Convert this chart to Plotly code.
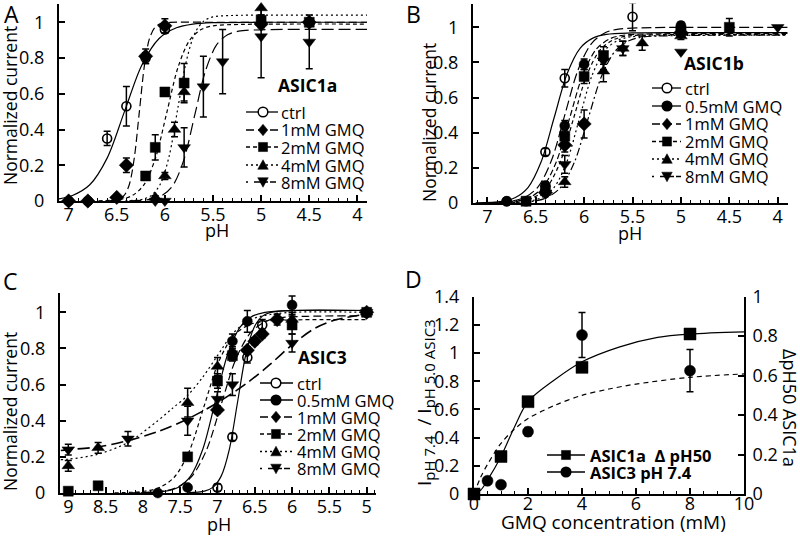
import plotly.graph_objects as go

W, H = 800, 537

# ---------------- panel A : ASIC1a ----------------
a_ctrl_ph = [7.0, 6.8, 6.6, 6.4, 6.2, 6.0]
a_ctrl_i = [0.0, 0.0, 0.35, 0.53, 0.80, 0.96]
a_ctrl_err = [0.01, 0.01, 0.04, 0.11, 0.03, 0.02]
a_1mm_ph = [7.0, 6.8, 6.5, 6.4, 6.2, 6.0, 5.0, 4.5]
a_1mm_i = [0.0, 0.0, 0.02, 0.20, 0.81, 0.98, 0.99, 1.0]
a_1mm_err = [0.0, 0.0, 0.01, 0.04, 0.04, 0.04, 0.02, 0.02]
a_2mm_ph = [6.2, 6.1, 6.0, 5.8, 5.0, 4.5]
a_2mm_i = [0.14, 0.30, 0.61, 0.66, 1.01, 1.0]
a_2mm_err = [0.01, 0.07, 0.02, 0.11, 0.03, 0.02]
a_4mm_ph = [6.1, 6.0, 5.9, 5.8, 5.0]
a_4mm_i = [0.02, 0.14, 0.40, 0.61, 1.08]
a_4mm_err = [0.01, 0.02, 0.04, 0.05, 0.04]
a_8mm_ph = [6.1, 6.0, 5.8, 5.6, 5.4, 5.0, 4.5]
a_8mm_i = [0.0, 0.0, 0.30, 0.64, 0.78, 0.92, 0.89]
a_8mm_err = [0.0, 0.0, 0.11, 0.17, 0.18, 0.23, 0.15]

# fitted curves
a_fit_ctrl_ph = [7.1, 6.96, 6.78, 6.60, 6.42, 6.24, 6.06, 5.88, 5.71, 5.5, 5.0, 3.9]
a_fit_ctrl_i = [0.012, 0.031, 0.091, 0.24, 0.5, 0.76, 0.909, 0.969, 0.99, 0.998, 1.0, 1.0]
a_fit_1mm_ph = [6.58, 6.475, 6.423, 6.37, 6.318, 6.265, 6.212, 6.16, 6.107, 6.055, 5.95, 5.5, 3.9]
a_fit_1mm_i = [0.001, 0.0099, 0.031, 0.091, 0.24, 0.5, 0.76, 0.909, 0.969, 0.99, 0.999, 1.0, 1.0]
a_fit_2mm_ph = [6.69, 6.456, 6.337, 6.218, 6.099, 5.98, 5.861, 5.742, 5.623, 5.504, 5.2, 4.8, 3.9]
a_fit_2mm_i = [0.001, 0.0098, 0.031, 0.09, 0.238, 0.495, 0.752, 0.90, 0.959, 0.98, 0.988, 0.99, 0.99]
a_fit_4mm_ph = [6.41, 6.229, 6.138, 6.047, 5.956, 5.865, 5.774, 5.683, 5.592, 5.501, 5.3, 4.9, 3.9]
a_fit_4mm_i = [0.001, 0.0103, 0.032, 0.095, 0.25, 0.52, 0.79, 0.945, 1.008, 1.03, 1.038, 1.04, 1.04]
a_fit_8mm_ph = [6.37, 6.145, 6.031, 5.917, 5.803, 5.69, 5.577, 5.463, 5.349, 5.235, 5.0, 4.6, 3.9]
a_fit_8mm_i = [0.001, 0.0095, 0.03, 0.087, 0.23, 0.48, 0.73, 0.873, 0.93, 0.95, 0.958, 0.96, 0.96]

# ---------------- panel B : ASIC1b ----------------
b_ctrl_ph = [6.8, 6.4, 6.2, 5.5, 5.0]
b_ctrl_i = [0.01, 0.29, 0.71, 1.06, 0.99]
b_ctrl_err = [0.01, 0.02, 0.05, 0.08, 0.02]
b_05mm_ph = [6.8, 6.6, 6.4, 6.2, 6.0, 5.0]
b_05mm_i = [0.01, 0.01, 0.10, 0.44, 0.79, 1.01]
b_05mm_err = [0.01, 0.01, 0.02, 0.03, 0.03, 0.02]
b_1mm_ph = [6.4, 6.2, 6.0, 5.0]
b_1mm_i = [0.06, 0.33, 0.45, 0.97]
b_1mm_err = [0.01, 0.04, 0.08, 0.02]
b_2mm_ph = [6.6, 6.4, 6.2, 6.0, 5.8, 5.0, 4.5]
b_2mm_i = [0.01, 0.07, 0.38, 0.72, 0.84, 0.98, 1.0]
b_2mm_err = [0.01, 0.02, 0.05, 0.04, 0.05, 0.02, 0.05]
b_4mm_ph = [6.2, 5.8, 5.6, 5.4, 5.0]
b_4mm_i = [0.12, 0.75, 0.88, 0.91, 0.95]
b_4mm_err = [0.03, 0.06, 0.04, 0.04, 0.02]
b_8mm_ph = [6.2, 5.8, 5.6, 5.0, 4.0]
b_8mm_i = [0.22, 0.81, 0.88, 0.86, 1.0]
b_8mm_err = [0.05, 0.05, 0.04, 0.0, 0.0]

b_fit_ctrl_ph = [7.12, 6.85, 6.715, 6.58, 6.445, 6.31, 6.175, 6.04, 5.905, 5.77, 5.5, 5.0, 3.9]
b_fit_ctrl_i = [0.001, 0.0096, 0.03, 0.088, 0.233, 0.485, 0.737, 0.882, 0.94, 0.96, 0.968, 0.97, 0.97]
b_fit_05mm_ph = [7.03, 6.756, 6.617, 6.478, 6.339, 6.2, 6.061, 5.922, 5.783, 5.644, 5.3, 4.8, 3.9]
b_fit_05mm_i = [0.001, 0.0099, 0.031, 0.091, 0.24, 0.5, 0.76, 0.909, 0.969, 0.99, 0.998, 1.0, 1.0]
b_fit_1mm_ph = [6.82, 6.531, 6.389, 6.246, 6.103, 5.96, 5.817, 5.674, 5.531, 5.389, 5.0, 4.6, 3.9]
b_fit_1mm_i = [0.001, 0.0095, 0.03, 0.087, 0.229, 0.478, 0.726, 0.868, 0.925, 0.945, 0.953, 0.955, 0.955]
b_fit_2mm_ph = [6.94, 6.666, 6.527, 6.388, 6.249, 6.11, 5.971, 5.832, 5.693, 5.554, 5.2, 4.7, 3.9]
b_fit_2mm_i = [0.001, 0.0095, 0.03, 0.087, 0.23, 0.48, 0.73, 0.873, 0.93, 0.95, 0.958, 0.96, 0.96]
b_fit_4mm_ph = [6.84, 6.576, 6.445, 6.313, 6.182, 6.05, 5.918, 5.787, 5.655, 5.524, 5.2, 4.7, 3.9]
b_fit_4mm_i = [0.001, 0.0095, 0.03, 0.087, 0.229, 0.478, 0.726, 0.868, 0.925, 0.945, 0.953, 0.955, 0.955]
b_fit_8mm_ph = [6.98, 6.706, 6.567, 6.428, 6.289, 6.15, 6.011, 5.872, 5.733, 5.594, 5.2, 4.7, 3.9]
b_fit_8mm_i = [0.001, 0.0096, 0.03, 0.088, 0.232, 0.483, 0.733, 0.877, 0.935, 0.955, 0.963, 0.965, 0.965]

# ---------------- panel C : ASIC3 ----------------
c_ctrl_ph = [7.0, 6.8, 6.6, 6.4, 5.0]
c_ctrl_i = [0.03, 0.31, 0.75, 0.93, 1.0]
c_ctrl_err = [0.02, 0.02, 0.03, 0.03, 0.01]
c_05mm_ph = [7.8, 7.4, 6.8, 6.6, 6.0, 5.0]
c_05mm_i = [0.0, 0.03, 0.84, 0.95, 1.04, 1.0]
c_05mm_err = [0.0, 0.0, 0.04, 0.06, 0.05, 0.0]
c_1mm_ph = [7.0, 6.6, 6.5, 6.4, 6.2, 5.0]
c_1mm_i = [0.46, 0.79, 0.84, 0.88, 0.96, 1.0]
c_1mm_err = [0.02, 0.02, 0.02, 0.02, 0.03, 0.0]
c_2mm_ph = [9.0, 8.6, 7.4, 7.0, 6.8, 6.0, 5.0]
c_2mm_i = [0.01, 0.04, 0.20, 0.62, 0.76, 0.93, 1.0]
c_2mm_err = [0.0, 0.01, 0.01, 0.04, 0.03, 0.05, 0.0]
c_4mm_ph = [9.0, 8.6, 7.4, 7.0, 6.8, 6.0, 5.0]
c_4mm_i = [0.15, 0.25, 0.50, 0.70, 0.78, 0.96, 1.0]
c_4mm_err = [0.03, 0.03, 0.08, 0.05, 0.03, 0.04, 0.0]
c_8mm_ph = [9.0, 8.2, 7.4, 7.0, 6.8, 6.0, 5.0]
c_8mm_i = [0.24, 0.30, 0.40, 0.52, 0.60, 0.83, 1.0]
c_8mm_err = [0.03, 0.04, 0.08, 0.04, 0.06, 0.05, 0.0]

c_fit_ctrl_ph = [7.4, 7.174, 7.063, 6.952, 6.841, 6.73, 6.619, 6.508, 6.397, 6.286, 6.0, 5.0]
c_fit_ctrl_i = [0.001, 0.01, 0.031, 0.092, 0.242, 0.505, 0.768, 0.918, 0.979, 1.0, 1.01, 1.01]
c_fit_05mm_ph = [8.03, 7.697, 7.53, 7.363, 7.197, 7.03, 6.863, 6.697, 6.53, 6.363, 6.0, 5.0]
c_fit_05mm_i = [0.001, 0.01, 0.031, 0.092, 0.242, 0.505, 0.768, 0.918, 0.979, 1.0, 1.01, 1.01]
c_fit_1mm_ph = [8.15, 7.75, 7.55, 7.35, 7.15, 6.95, 6.75, 6.55, 6.35, 6.15, 5.8, 5.0]
c_fit_1mm_i = [0.001, 0.0097, 0.03, 0.089, 0.235, 0.49, 0.745, 0.89, 0.95, 0.97, 0.978, 0.98]
c_fit_2mm_ph = [8.38, 7.98, 7.78, 7.58, 7.38, 7.18, 6.98, 6.78, 6.58, 6.38, 6.0, 5.0]
c_fit_2mm_i = [0.001, 0.0095, 0.03, 0.087, 0.23, 0.48, 0.73, 0.873, 0.93, 0.95, 0.958, 0.96]
c_fit_4mm_ph = [9.1, 9.0, 8.6, 8.2, 7.8, 7.6, 7.4, 7.2, 7.0, 6.8, 6.6, 6.4, 6.0, 5.0]
c_fit_4mm_i = [0.185, 0.187, 0.215, 0.28, 0.40, 0.47, 0.54, 0.64, 0.76, 0.88, 0.95, 0.98, 1.0, 1.0]
c_fit_8mm_ph = [9.1, 9.0, 8.6, 8.2, 7.8, 7.4, 7.0, 6.6, 6.3, 6.0, 5.7, 5.4, 5.0]
c_fit_8mm_i = [0.235, 0.24, 0.255, 0.29, 0.34, 0.41, 0.50, 0.61, 0.71, 0.82, 0.91, 0.96, 0.99]

# ---------------- panel D : GMQ dose dependence ----------------
d_sq_conc = [0, 1, 2, 4, 8]
d_sq_dph50 = [0.0, 0.19, 0.468, 0.642, 0.811]          # right axis
d_ci_conc = [0.5, 1, 2, 4, 8]
d_ci_ratio = [0.094, 0.066, 0.442, 1.128, 0.875]        # left axis
d_ci_err = [0.0, 0.0, 0.03, 0.16, 0.15]
d_fit_sq_conc = [0, 0.25, 0.5, 1, 1.5, 2, 3, 4, 5.4, 6.8, 8, 10]
d_fit_sq_val = [0, 0.02, 0.07, 0.19, 0.34, 0.468, 0.58, 0.67, 0.746, 0.794, 0.811, 0.822]
d_fit_ci_conc = [0, 0.25, 0.5, 1, 1.5, 2, 3, 4, 5, 6, 8, 10]
d_fit_ci_val = [0, 0.12, 0.21, 0.36, 0.46, 0.535, 0.63, 0.70, 0.745, 0.78, 0.828, 0.852]

FONT = "Open Sans, Noto Sans, sans-serif"


def px(x):
    return x / W


def py(y):
    return 1 - y / H


fig = go.Figure()


def add_fit(x, y, dash, xa, ya, width=1.2):
    fig.add_trace(go.Scatter(
        x=x, y=y, mode="lines", xaxis=xa, yaxis=ya, showlegend=False,
        line=dict(color="black", width=width, dash=dash, shape="spline", smoothing=0.9),
        cliponaxis=False, hoverinfo="skip"))


def add_points(x, y, err, sym, xa, ya, size=10):
    open_sym = sym.endswith("open")
    fig.add_trace(go.Scatter(
        x=x, y=y, mode="markers", xaxis=xa, yaxis=ya, showlegend=False,
        marker=dict(symbol=sym, size=size, color="black",
                    line=dict(color="black", width=1.6 if open_sym else 0.5)),
        error_y=dict(type="data", array=err, visible=err is not None,
                     color="black", thickness=1.5, width=3.5),
        cliponaxis=False))


# line styles
D_SOLID = "solid"
D_LONG = "8px,4px"
D_SHORT = "4px,3px"
D_DOT = "2px,3px"
D_8MM = "12px,5px"
D_DASHDOT = "8px,3px,2px,3px"

# A
add_fit(a_fit_ctrl_ph, a_fit_ctrl_i, D_SOLID, "x", "y")
add_fit(a_fit_1mm_ph, a_fit_1mm_i, D_LONG, "x", "y")
add_fit(a_fit_2mm_ph, a_fit_2mm_i, D_SHORT, "x", "y")
add_fit(a_fit_4mm_ph, a_fit_4mm_i, D_DOT, "x", "y")
add_fit(a_fit_8mm_ph, a_fit_8mm_i, D_8MM, "x", "y")
add_points(a_1mm_ph, a_1mm_i, a_1mm_err, "diamond", "x", "y", 11)
add_points(a_2mm_ph, a_2mm_i, a_2mm_err, "square", "x", "y")
add_points(a_4mm_ph, a_4mm_i, a_4mm_err, "triangle-up", "x", "y", 11)
add_points(a_8mm_ph, a_8mm_i, a_8mm_err, "triangle-down", "x", "y", 11)
add_points(a_ctrl_ph, a_ctrl_i, a_ctrl_err, "circle-open", "x", "y", 9)

# B
add_fit(b_fit_ctrl_ph, b_fit_ctrl_i, D_SOLID, "x2", "y2")
add_fit(b_fit_05mm_ph, b_fit_05mm_i, "10px,4px", "x2", "y2")
add_fit(b_fit_1mm_ph, b_fit_1mm_i, D_DASHDOT, "x2", "y2")
add_fit(b_fit_2mm_ph, b_fit_2mm_i, D_SHORT, "x2", "y2")
add_fit(b_fit_4mm_ph, b_fit_4mm_i, D_DOT, "x2", "y2")
add_fit(b_fit_8mm_ph, b_fit_8mm_i, "6px,3px", "x2", "y2")
add_points(b_05mm_ph, b_05mm_i, b_05mm_err, "circle", "x2", "y2")
add_points(b_1mm_ph, b_1mm_i, b_1mm_err, "diamond", "x2", "y2", 11)
add_points(b_2mm_ph, b_2mm_i, b_2mm_err, "square", "x2", "y2")
add_points(b_4mm_ph, b_4mm_i, b_4mm_err, "triangle-up", "x2", "y2", 11)
add_points(b_8mm_ph, b_8mm_i, b_8mm_err, "triangle-down", "x2", "y2", 11)
add_points(b_ctrl_ph, b_ctrl_i, b_ctrl_err, "circle-open", "x2", "y2", 9)

# C
add_fit(c_fit_ctrl_ph, c_fit_ctrl_i, D_SOLID, "x3", "y3")
add_fit(c_fit_05mm_ph, c_fit_05mm_i, D_SOLID, "x3", "y3")
add_fit(c_fit_1mm_ph, c_fit_1mm_i, D_LONG, "x3", "y3")
add_fit(c_fit_2mm_ph, c_fit_2mm_i, D_SHORT, "x3", "y3")
add_fit(c_fit_4mm_ph, c_fit_4mm_i, D_DOT, "x3", "y3")
add_fit(c_fit_8mm_ph, c_fit_8mm_i, D_8MM, "x3", "y3", 1.6)
add_points(c_05mm_ph, c_05mm_i, c_05mm_err, "circle", "x3", "y3")
add_points(c_1mm_ph, c_1mm_i, c_1mm_err, "diamond", "x3", "y3", 11)
add_points(c_2mm_ph, c_2mm_i, c_2mm_err, "square", "x3", "y3")
add_points(c_4mm_ph, c_4mm_i, c_4mm_err, "triangle-up", "x3", "y3", 11)
add_points(c_8mm_ph, c_8mm_i, c_8mm_err, "triangle-down", "x3", "y3", 11)
add_points(c_ctrl_ph, c_ctrl_i, c_ctrl_err, "circle-open", "x3", "y3", 9)

# D
add_fit(d_fit_sq_conc, d_fit_sq_val, D_SOLID, "x4", "y5")
add_fit(d_fit_ci_conc, d_fit_ci_val, "5px,4px", "x4", "y4")
add_points(d_ci_conc, d_ci_ratio, d_ci_err, "circle", "x4", "y4", 11)
add_points(d_sq_conc, d_sq_dph50, None, "square", "x4", "y5", 12)

# ---------------- axes ----------------
ax = dict(showline=True, linecolor="black", linewidth=2, ticks="inside", ticklen=6,
          tickwidth=1.5, tickcolor="black", showgrid=False, zeroline=False, automargin=False,
          tickfont=dict(size=18, color="black", family=FONT))
minor_ph = dict(dtick=0.1, ticks="inside", ticklen=3.5, tickwidth=1, tickcolor="black")

fig.update_layout(
    xaxis=dict(ax, domain=[px(59), px(367)], range=[7.1, 3.9], dtick=0.5, tick0=0,
               minor=minor_ph, anchor="y", ticklabelstandoff=-4),
    yaxis=dict(ax, domain=[py(201), py(4.4)], range=[0, 1.1], dtick=0.2, tick0=0,
               anchor="x", ticklabelstandoff=9),
    xaxis2=dict(ax, domain=[px(473), px(788)], range=[7.148, 3.894], dtick=0.5, tick0=0,
                minor=minor_ph, anchor="y2", ticklabelstandoff=-4),
    yaxis2=dict(ax, domain=[py(203), py(3.6)], range=[0, 1.135], dtick=0.2, tick0=0,
                anchor="x2", ticklabelstandoff=9),
    xaxis3=dict(ax, domain=[px(60), px(376)], range=[9.111, 4.875], dtick=0.5, tick0=0,
                minor=minor_ph, anchor="y3", ticklabelstandoff=-4),
    yaxis3=dict(ax, domain=[py(493), py(293)], range=[0, 1.107], dtick=0.2, tick0=0,
                anchor="x3", ticklabelstandoff=9),
    xaxis4=dict(ax, domain=[px(474), px(744)], range=[0, 10], dtick=2, tick0=0,
                minor=dict(dtick=0.5, ticks="inside", ticklen=3.5, tickwidth=1, tickcolor="black"),
                anchor="y4", ticklabelstandoff=-8),
    yaxis4=dict(ax, domain=[py(494), py(296.7)], range=[0, 1.4], dtick=0.2, tick0=0,
                anchor="x4", ticklabelstandoff=9),
    yaxis5=dict(ax, overlaying="y4", side="right", anchor="x4", range=[0, 1], dtick=0.2,
                tick0=0, ticklabelstandoff=3),
)

# ---------------- text ----------------
ann = []


def text(x, y, s, size=17.5, bold=False, angle=0, xanchor="center"):
    ann.append(dict(x=px(x), y=py(y), xref="paper", yref="paper", text=f"<b>{s}</b>" if bold else s,
                    showarrow=False, textangle=angle, xanchor=xanchor, yanchor="middle",
                    font=dict(size=size, color="black", family=FONT)))


text(11, 14, "A", 23)
text(414, 14, "B", 23)
text(10, 281, "C", 23)
text(414, 279, "D", 23)
text(217, 230, "pH", 18)
text(630, 233, "pH", 18)
text(219, 524, "pH", 18)
text(613, 522, "GMQ concentration (mM)", 19)
text(10, 106, "Normalized current", angle=-90)
text(429, 123, "Normalized current", angle=-90)
text(10, 412, "Normalized current", angle=-90)
text(425, 403, "I<sub><span style='font-size:15px'>pH 7.4</span></sub>  / "
                "I<sub><span style='font-size:15px'>pH 5.0 ASIC3</span></sub>", 19, angle=-90)
text(790, 408, "ΔpH50 ASIC1a", 18, angle=90)
text(307, 85, "ASIC1a", bold=True)
text(714, 63, "ASIC1b", bold=True)
text(322, 357, "ASIC3", bold=True)

# ---------------- hand made legends ----------------
shapes = []


def marker_shape(sym, cx, cy, r=4.8):
    if sym in ("circle", "circle-open"):
        return dict(type="circle", xref="paper", yref="paper",
                    x0=px(cx - r), x1=px(cx + r), y0=py(cy + r), y1=py(cy - r),
                    fillcolor="white" if sym == "circle-open" else "black",
                    line=dict(color="black", width=1.5))
    if sym == "square":
        r = r * 0.95
        pts = [(cx - r, cy - r), (cx + r, cy - r), (cx + r, cy + r), (cx - r, cy + r)]
    elif sym == "diamond":
        pts = [(cx, cy - r * 1.2), (cx + r, cy), (cx, cy + r * 1.2), (cx - r, cy)]
    elif sym == "triangle-up":
        pts = [(cx, cy - r * 1.1), (cx + r * 1.1, cy + r * 0.9), (cx - r * 1.1, cy + r * 0.9)]
    else:
        pts = [(cx, cy + r * 1.1), (cx + r * 1.1, cy - r * 0.9), (cx - r * 1.1, cy - r * 0.9)]
    path = "M" + " L".join(f"{px(a):.5f},{py(b):.5f}" for a, b in pts) + " Z"
    return dict(type="path", xref="paper", yref="paper", path=path, fillcolor="black",
                line=dict(color="black", width=0.5))


def legend(rows, ys, x0, x1, xm, xt, bold=False):
    for (label, sym, dash), y in zip(rows, ys):
        shapes.append(dict(type="line", xref="paper", yref="paper", x0=px(x0), x1=px(x1),
                           y0=py(y), y1=py(y), line=dict(color="black", width=1.3, dash=dash)))
        shapes.append(marker_shape(sym, xm, y))
        text(xt, y, label, size=16.5, bold=bold, xanchor="left")


rows_a = [("ctrl", "circle-open", D_SOLID), ("1mM GMQ", "diamond", D_LONG),
          ("2mM GMQ", "square", D_SHORT), ("4mM GMQ", "triangle-up", D_DOT),
          ("8mM GMQ", "triangle-down", "2px,6px,14px")]
rows_bc = [("ctrl", "circle-open", D_SOLID), ("0.5mM GMQ", "circle", D_SOLID),
           ("1mM GMQ", "diamond", D_LONG), ("2mM GMQ", "square", D_SHORT),
           ("4mM GMQ", "triangle-up", D_DOT), ("8mM GMQ", "triangle-down", "2px,6px,14px")]
legend(rows_a, [112, 130, 147, 165, 182], 246, 278, 263, 279)
legend(rows_bc, [88, 106, 124, 141.5, 159, 176.5], 652, 681, 667, 683)
legend(rows_bc, [383, 400, 417, 434, 451.5, 468.5], 260, 293, 276, 295)
legend([("ASIC1a  Δ pH50", "square", D_SOLID), ("ASIC3 pH 7.4", "circle", D_SOLID)],
       [455, 472], 547, 585, 566, 588, bold=True)

fig.update_layout(
    template="none",
    width=W, height=H, margin=dict(l=0, r=0, t=0, b=0, pad=0),
    paper_bgcolor="white", plot_bgcolor="white",
    font=dict(family=FONT, color="black"),
    annotations=ann, shapes=shapes, showlegend=False,
)

# the page keeps the default 8px body margin otherwise
fig.write_html("out.html", config={"displayModeBar": False},
               post_script="document.body.style.margin='0';document.body.style.padding='0';")
